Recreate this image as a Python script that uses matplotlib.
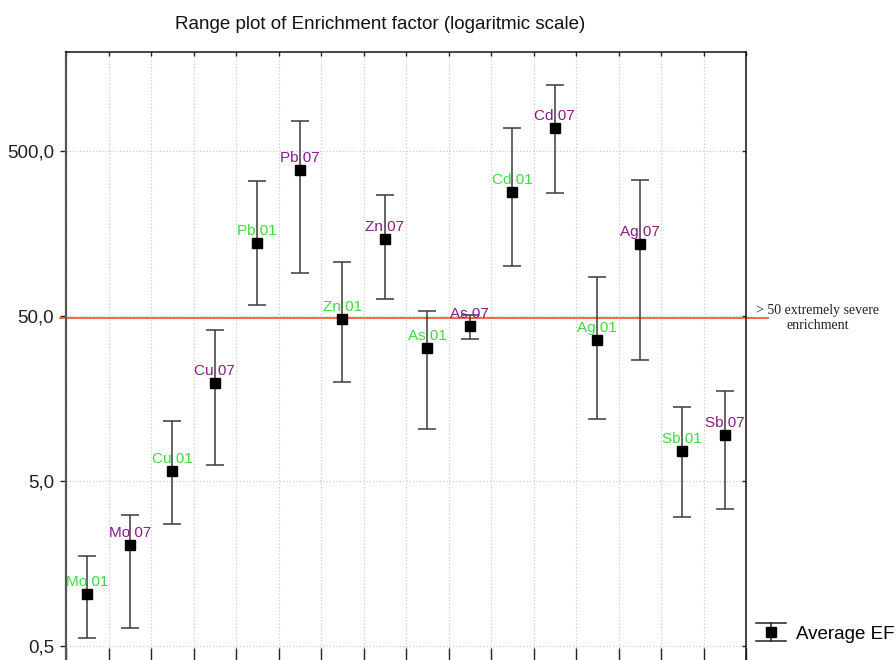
import numpy as np
import matplotlib
matplotlib.use('Agg')
import matplotlib.pyplot as plt
from matplotlib.container import ErrorbarContainer
from matplotlib.legend_handler import HandlerBase
from matplotlib.lines import Line2D

plt.rcParams['font.family'] = ['Liberation Sans', 'DejaVu Sans']

# Enrichment factor per element and sampling (01 / 07)
samples = ['Mo 01', 'Mo 07', 'Cu 01', 'Cu 07', 'Pb 01', 'Pb 07', 'Zn 01', 'Zn 07',
           'As 01', 'As 07', 'Cd 01', 'Cd 07', 'Ag 01', 'Ag 07', 'Sb 01', 'Sb 07']
ef_mean = [1.03, 2.05, 5.72, 19.6, 138, 385, 48.2, 147,
           31.8, 43.4, 282, 696, 35.9, 136.6, 7.59, 9.44]
ef_max = [1.76, 3.1, 11.6, 41, 331, 761, 106, 272,
          53.4, 50.5, 696, 1259, 86, 336, 14.06, 17.5]
ef_min = [0.557, 0.64, 2.72, 6.25, 58.3, 91.3, 20.0, 63.2,
          10.3, 36.5, 100, 278, 11.9, 27.0, 3.01, 3.4]

y_ticks = [0.5, 5, 50, 500]
y_tick_labels = ['0,5', '5,0', '50,0', '500,0']
threshold = 48.5

GREEN = '#3ddc3d'
PURPLE = '#8a1a8a'


class HandlerRange(HandlerBase):
    # legend symbol: wide caps, vertical bar, square marker
    def create_artists(self, legend, orig_handle, xdescent, ydescent,
                       width, height, fontsize, trans):
        cx = width / 2 - xdescent
        cy = height / 2 - ydescent
        half = 6.6
        kw = dict(color='#222222', lw=1.1, transform=trans)
        top = Line2D([-xdescent, width - xdescent], [cy + half, cy + half], **kw)
        bot = Line2D([-xdescent, width - xdescent], [cy - half, cy - half], **kw)
        bar = Line2D([cx, cx], [cy - half, cy + half], **kw)
        mk = Line2D([cx], [cy], marker='s', ms=6.5, color='black',
                    linestyle='none', transform=trans)
        return [top, bot, bar, mk]


fig = plt.figure(figsize=(8.96, 6.6), dpi=100)
ax = fig.add_axes([66 / 896, -0.0026, 680 / 896, 0.9238])

x = np.arange(len(samples))
mean = np.array(ef_mean)
yerr = [mean - np.array(ef_min), np.array(ef_max) - mean]

eb = ax.errorbar(x, mean, yerr=yerr, fmt='s', color='black', ms=6.5,
                 ecolor='#3a3a3a', elinewidth=1.1, capsize=6.5, capthick=1.1,
                 zorder=3)

for i, (name, v) in enumerate(zip(samples, ef_mean)):
    c = GREEN if name.endswith('01') else PURPLE
    ax.annotate(name, (i, v), xytext=(0, 5.8), textcoords='offset points',
                ha='center', va='baseline', fontsize=11, color=c, zorder=4)

ax.set_yscale('log')
ax.set_ylim(0.4, 2000)
ax.set_xlim(-0.5, len(samples) - 0.5)
ax.set_yticks(y_ticks)
ax.set_yticklabels(y_tick_labels, fontsize=13.5)
ax.yaxis.set_minor_locator(matplotlib.ticker.NullLocator())
ax.set_xticks(np.arange(-0.5, len(samples), 1.0))
ax.set_xticklabels([])

ax.grid(True, color='#c4c4c4', lw=0.8, linestyle=(0, (1, 2)))
ax.set_axisbelow(True)

ax.tick_params(axis='y', which='major', left=True, right=True, direction='in',
               length=3, width=1, pad=8.5, colors='#222222')
ax.tick_params(axis='x', which='major', top=True, bottom=True, direction='in',
               length=3, width=1, color='#222222')

# left ticks point outward, the others inward
for t in ax.yaxis.get_major_ticks():
    t.tick1line.set_marker(matplotlib.lines.TICKLEFT)
    t.tick1line.set_markersize(4.3)
for t in ax.xaxis.get_major_ticks():
    t.tick1line.set_markersize(10)

ax.spines['left'].set_color('#555555')
ax.spines['left'].set_linewidth(1.6)
for s in ['top', 'right']:
    ax.spines[s].set_color('#111111')
    ax.spines[s].set_linewidth(1.1)

# threshold line, running past the right frame
ax.axhline(threshold, xmin=-0.009, xmax=1.032, clip_on=False,
           color='#ff5a3c', lw=1.3, zorder=2)
fig.text(817.5 / 896, 1 - 318 / 660, '> 50 extremely severe\nenrichment',
         ha='center', va='center', family='Liberation Serif', fontsize=10,
         linespacing=1.2, color='#222222')

fig.text(379.7 / 896, 1 - 29.3 / 660,
         'Range plot of Enrichment factor (logaritmic scale)',
         ha='center', va='baseline', fontsize=13.5, color='#111111')

fig.legend(handles=[eb], labels=['Average EF'],
           handler_map={ErrorbarContainer: HandlerRange()},
           loc='center left', bbox_to_anchor=(756 / 896, 1 - 634 / 660),
           frameon=False, borderpad=0, borderaxespad=0, handlelength=1.6,
           handletextpad=0.55, fontsize=13.5)

fig.savefig('out.png', dpi=100)
